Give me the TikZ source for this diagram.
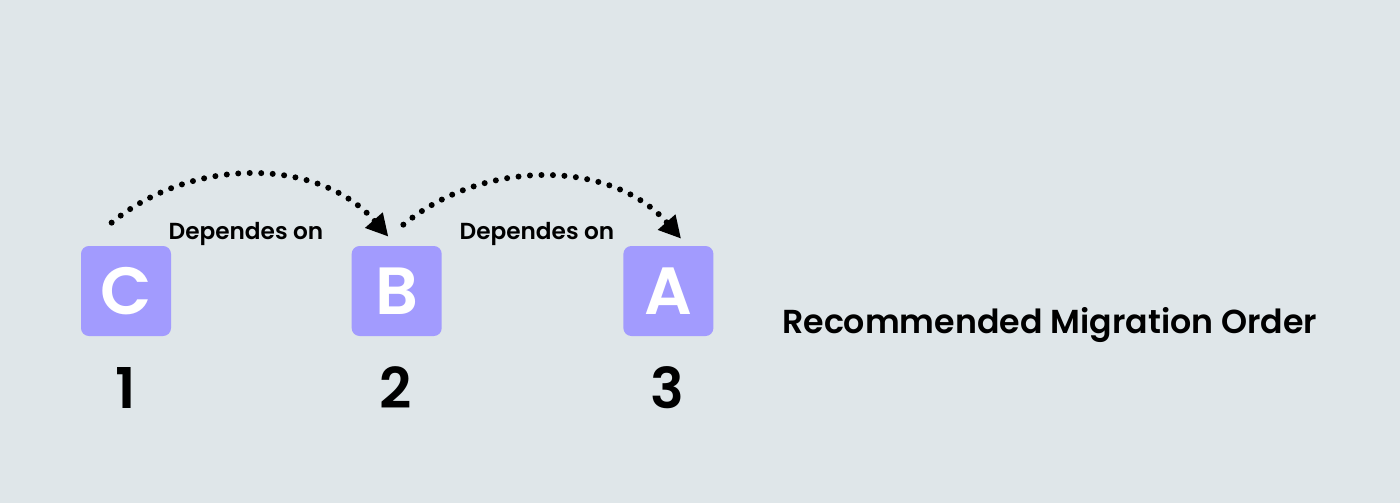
\documentclass[tikz,border=0pt]{standalone}
\usepackage{fontspec}
\setmainfont{Poppins}
\newfontfamily\semifont{Poppins SemiBold}
\usetikzlibrary{arrows.meta,calc,positioning}
\definecolor{bgcol}{HTML}{DFE6E9}
\definecolor{lav}{HTML}{A29BFE}

\begin{document}
\begin{tikzpicture}[
  svc/.style={rectangle,fill=lav,minimum size=1.8cm,rounded corners=4.5pt,
              inner sep=0pt,text=white,font=\fontsize{38}{40}\selectfont\semifont},
  ord/.style={font=\fontsize{32}{34}\selectfont\semifont},
  dep/.style={draw,line width=0.12cm,line cap=round,dash pattern=on 0pt off 0.23cm,
              -{Triangle[length=0.44cm,width=0.44cm]}},
  label/.style={font=\fontsize{13.2}{15}\selectfont\semifont},
]

%% =====================================================
%%  Canvas
%% =====================================================
\fill[bgcol] (0,0) rectangle (28,10.06);
\useasboundingbox (0,0) rectangle (28,10.06);

% --- services, in migration order ---
\node[svc] (C) at (2.52,4.24) {C};
\node[svc,right=3.6cm of C] (B) {B};
\node[svc,right=3.62cm of B] (A) {A};

\node[ord] (n1) at (2.52,2.3) {1};
\node[ord] (n2) at (7.92,2.3) {2};
\node[ord] (n3) at (13.34,2.3) {3};

%% =====================================================
%%  Dependencies (dotted arcs)
%% =====================================================
\coordinate (c0) at ($(C.north west)+(0.62,0.46)$);
\coordinate (b1) at ($(B.north west)+(0.74,0.18)$);
\coordinate (b0) at ($(B.north west)+(1.04,0.42)$);
\coordinate (a1) at ($(A.north west)+(1.16,0.14)$);

\draw[dep] (c0) .. controls ($(c0)+(1.6,1.32)$) and ($(b1)+(-1.4,1.6)$) .. (b1);
\draw[dep] (b0) .. controls ($(b0)+(1.6,1.32)$) and ($(a1)+(-1.4,1.6)$) .. (a1);

\node[label] (d1) at (4.92,5.38) {Dependes on};
\node[label] (d2) at (10.74,5.38) {Dependes on};

% --- caption ---
\node[font=\fontsize{18.9}{21}\selectfont\semifont,anchor=west] (title) at (15.52,3.56)
     {Recommended Migration Order};

\end{tikzpicture}
\end{document}
